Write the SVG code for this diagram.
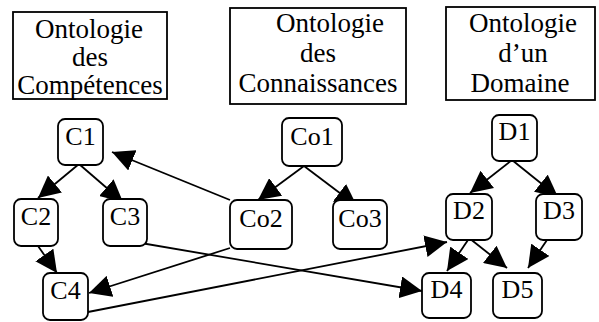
<svg xmlns="http://www.w3.org/2000/svg" width="599" height="322" viewBox="0 0 599 322">
<style>
.box{fill:#fff;stroke:#000;stroke-width:1.8}
.node{fill:#fff;stroke:#000;stroke-width:1.8}
.t{font-size:27px;fill:#000;text-anchor:middle}
.n{font-size:26px;fill:#000;text-anchor:middle}
.e{stroke:#000;stroke-width:1.8;fill:none;marker-end:url(#ah)}
</style>
<defs>
<marker id="ah" viewBox="0 0 22 22" refX="22" refY="11" markerWidth="22" markerHeight="22" markerUnits="userSpaceOnUse" orient="auto">
<path d="M0,0 L22,11 L0,22 z" fill="#000"/>
</marker>
</defs>
<rect width="599" height="322" fill="#fff"/>
<g id="title-competences">
<rect class="box" x="13" y="12" width="154" height="87"/>
<text class="t" font-family="'Liberation Serif', serif" x="89" y="38">Ontologie</text>
<text class="t" font-family="'Liberation Serif', serif" x="90" y="66">des</text>
<text class="t" font-family="'Liberation Serif', serif" x="90" y="94">Compétences</text>
</g>
<g id="title-connaissances">
<rect class="box" x="230" y="8" width="176" height="96"/>
<text class="t" font-family="'Liberation Serif', serif" x="330" y="32">Ontologie</text>
<text class="t" font-family="'Liberation Serif', serif" x="318" y="62">des</text>
<text class="t" font-family="'Liberation Serif', serif" x="318" y="92">Connaissances</text>
</g>
<g id="title-domaine">
<rect class="box" x="446" y="7" width="149" height="93"/>
<text class="t" font-family="'Liberation Serif', serif" x="523" y="32">Ontologie</text>
<text class="t" font-family="'Liberation Serif', serif" x="523" y="62">d’un</text>
<text class="t" font-family="'Liberation Serif', serif" x="520" y="92">Domaine</text>
</g>
<g id="connectors">
<line class="e" x1="79" y1="164" x2="38" y2="198"/>
<line class="e" x1="79" y1="164" x2="123" y2="202"/>
<line class="e" x1="38" y1="246" x2="57" y2="273"/>
<line class="e" x1="230" y1="200" x2="112" y2="152"/>
<line class="e" x1="230" y1="248" x2="89" y2="293"/>
<line class="e" x1="135" y1="242" x2="422" y2="291"/>
<line class="e" x1="88" y1="312" x2="447" y2="242"/>
<line class="e" x1="304" y1="166" x2="258" y2="200"/>
<line class="e" x1="304" y1="166" x2="357" y2="206"/>
<line class="e" x1="512" y1="160" x2="470" y2="193"/>
<line class="e" x1="512" y1="160" x2="558" y2="197"/>
<line class="e" x1="468" y1="240" x2="447" y2="271"/>
<line class="e" x1="469" y1="238" x2="507" y2="268"/>
<line class="e" x1="547" y1="240" x2="528" y2="268"/>
</g>
<g id="C1"><rect class="node" x="58" y="119" width="45" height="46" rx="7"/><text class="n" font-family="'Liberation Serif', serif" x="80.5" y="145">C1</text></g>
<g id="C2"><rect class="node" x="14" y="199" width="44" height="47" rx="7"/><text class="n" font-family="'Liberation Serif', serif" x="36" y="225">C2</text></g>
<g id="C3"><rect class="node" x="103" y="199" width="44" height="47" rx="7"/><text class="n" font-family="'Liberation Serif', serif" x="125" y="225">C3</text></g>
<g id="C4"><rect class="node" x="43" y="273" width="45" height="47" rx="7"/><text class="n" font-family="'Liberation Serif', serif" x="65.5" y="299">C4</text></g>
<g id="Co1"><rect class="node" x="282" y="118" width="60" height="48" rx="7"/><text class="n" font-family="'Liberation Serif', serif" x="312" y="145">Co1</text></g>
<g id="Co2"><rect class="node" x="230" y="200" width="62" height="49" rx="7"/><text class="n" font-family="'Liberation Serif', serif" x="261" y="227">Co2</text></g>
<g id="Co3"><rect class="node" x="333" y="200" width="54" height="49" rx="7"/><text class="n" font-family="'Liberation Serif', serif" x="360" y="227">Co3</text></g>
<g id="D1"><rect class="node" x="492" y="115" width="45" height="46" rx="7"/><text class="n" font-family="'Liberation Serif', serif" x="514.5" y="140">D1</text></g>
<g id="D2"><rect class="node" x="446" y="194" width="46" height="46" rx="7"/><text class="n" font-family="'Liberation Serif', serif" x="469" y="219">D2</text></g>
<g id="D3"><rect class="node" x="536" y="194" width="46" height="46" rx="7"/><text class="n" font-family="'Liberation Serif', serif" x="559" y="219">D3</text></g>
<g id="D4"><rect class="node" x="422" y="273" width="49" height="45" rx="7"/><text class="n" font-family="'Liberation Serif', serif" x="446.5" y="298">D4</text></g>
<g id="D5"><rect class="node" x="493" y="273" width="49" height="45" rx="7"/><text class="n" font-family="'Liberation Serif', serif" x="517.5" y="298">D5</text></g>
</svg>
